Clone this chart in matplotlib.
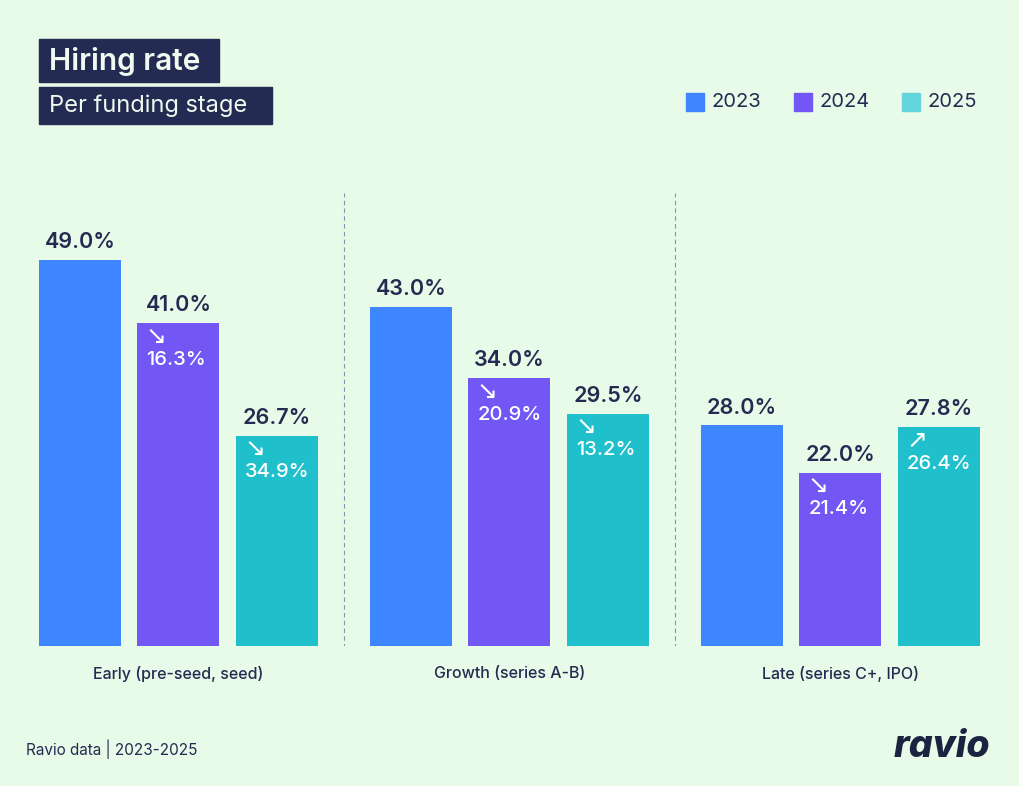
import matplotlib.pyplot as plt
from matplotlib.patches import Rectangle
import numpy as np

plt.rcParams['font.family'] = ['Inter', 'DejaVu Sans']

stages = ['Early (pre-seed, seed)', 'Growth (series A-B)', 'Late (series C+, IPO)']
years = ['2023', '2024', '2025']
rate_2023 = [49.0, 43.0, 28.0]
rate_2024 = [41.0, 34.0, 22.0]
rate_2025 = [26.7, 29.5, 27.8]
# year-on-year change shown inside the bars (2024, 2025)
change_2024 = [-16.3, -20.9, -21.4]
change_2025 = [-34.9, -13.2, 26.4]

bg = '#E8FAE8'
navy = '#232B52'
colors = ['#3D86FF', '#7357F5', '#1FBFCB']
legend_colors = ['#3D86FF', '#7357F5', '#63D5DB']

W, H = 1020, 786
fig = plt.figure(figsize=(W / 100, H / 100), dpi=100, facecolor=bg)
ax = fig.add_axes([13 / W, 140 / H, 993 / W, 456 / H])
ax.set_facecolor(bg)
ax.set_xlim(-0.5, 2.5)
ax.set_ylim(0, 57.9)
for s in ax.spines.values():
    s.set_visible(False)
ax.set_xticks([])
ax.set_yticks([])

x = np.arange(len(stages))
width = 82 / 331
step = 98.5 / 331
series = [rate_2023, rate_2024, rate_2025]
changes = [None, change_2024, change_2025]

for i, vals in enumerate(series):
    pos = x + (i - 1) * step
    ax.bar(pos, vals, width=width, color=colors[i], zorder=2)
    for j, v in enumerate(vals):
        ax.text(pos[j], v + 1.0, f'{v:.1f}%', ha='center', va='bottom',
                fontsize=15.5, fontweight='semibold', color=navy)
        if changes[i] is not None:
            c = changes[i][j]
            arrow = '↗' if c > 0 else '↘'
            left = pos[j] - width / 2 + 8 / 331
            ax.text(left, v - 0.3, arrow, ha='left', va='top',
                    fontsize=18, color='white', family=['DejaVu Sans'])
            ax.text(left + 1 / 331, v - 3.5, f'{abs(c):.1f}%', ha='left', va='top',
                    fontsize=14.5, fontweight='medium', color='white')

# dashed separators between groups
for b in [0.5, 1.5]:
    ax.plot([b, b], [-0.3, 57.5], ls=(0, (4, 3)), lw=0.8, color='#8A93AE', zorder=1)

for j, s in enumerate(stages):
    fig.text((13 + 331 * (j + 0.5)) / W, 1 - 674 / H, s, ha='center', va='center',
             fontsize=11.5, fontweight='medium', color=navy)

# title boxes
fig.patches.append(Rectangle((39 / W, 1 - 82 / H), 180 / W, 43 / H,
                             transform=fig.transFigure, color=navy))
fig.text(49 / W, 1 - 61 / H, 'Hiring rate', fontsize=21.5, fontweight='semibold',
         color='#F0FAF0', va='center', ha='left')
fig.patches.append(Rectangle((39 / W, 1 - 124 / H), 233 / W, 37 / H,
                             transform=fig.transFigure, color=navy))
fig.text(49 / W, 1 - 106 / H, 'Per funding stage', fontsize=17,
         color='#F0FAF0', va='center', ha='left')

# legend
for k, yr in enumerate(years):
    lx = [686, 794, 902][k]
    fig.patches.append(Rectangle((lx / W, 1 - 111 / H), 18 / W, 18 / H,
                                 transform=fig.transFigure, color=legend_colors[k]))
    fig.text((lx + 26) / W, 1 - 102 / H, yr, fontsize=14.5, color=navy,
             va='center', ha='left')

fig.text(26 / W, 1 - 749 / H, 'Ravio data | 2023-2025', fontsize=11, color=navy,
         va='center')
fig.text(990 / W, 1 - 747 / H, 'ravio', fontsize=27, fontweight='heavy',
         style='italic', color='#1C2340', va='center', ha='right')

plt.savefig('out.png', dpi=100, facecolor=bg)
